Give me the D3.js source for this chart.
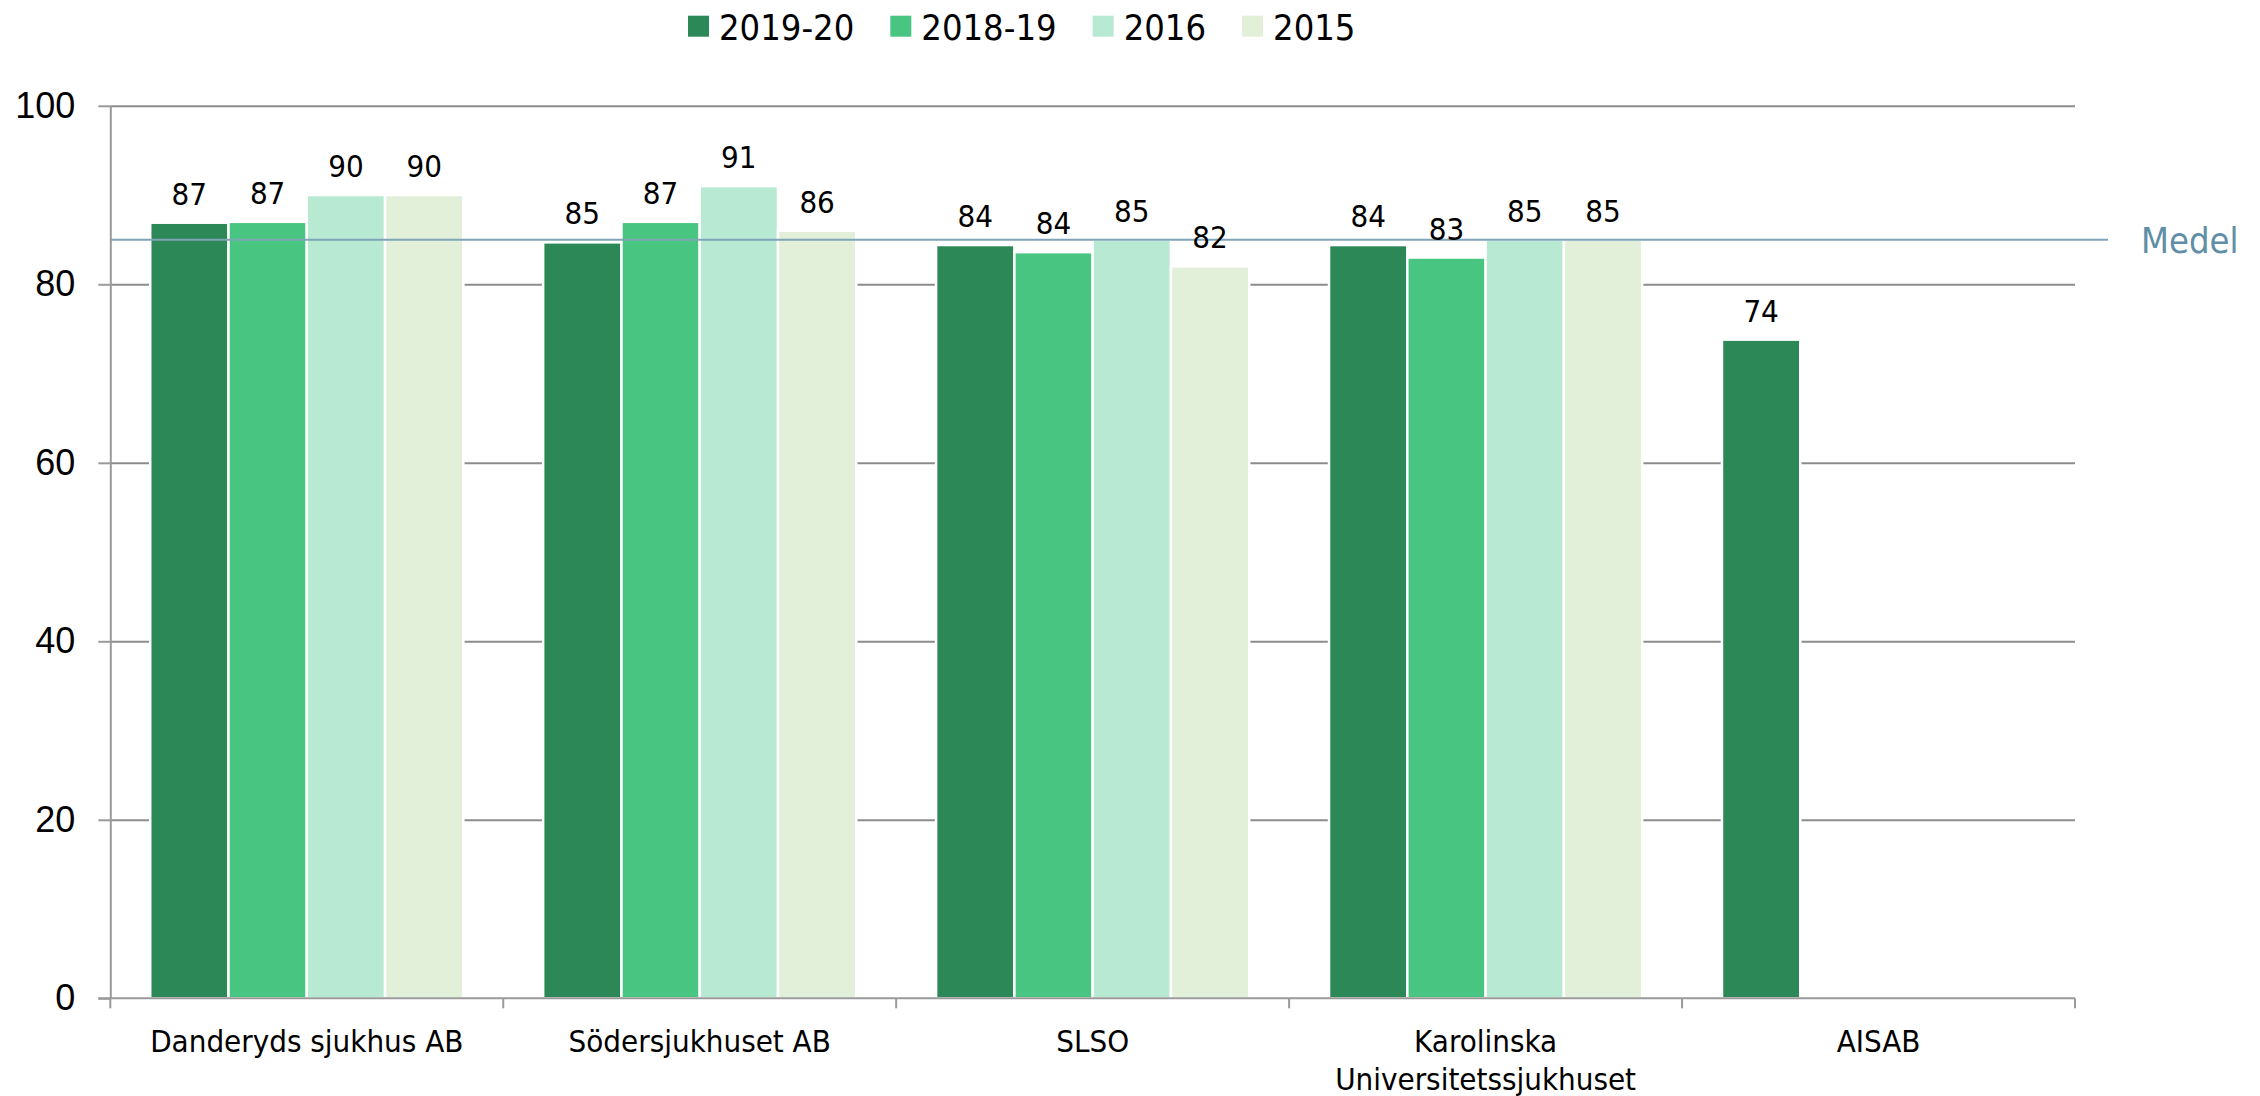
<!DOCTYPE html>
<html>
<head>
<meta charset="utf-8">
<script src="https://cdn.jsdelivr.net/npm/d3@7"></script>
<style>
	body { margin: 0; background: #fff; }
	svg { display: block; font-family: "DejaVu Sans Condensed", "DejaVu Sans", sans-serif; font-stretch: condensed; }
	.grid line { stroke: #8c8c8c; stroke-width: 2; }
	.axis path, .axis line { stroke: #9a9a9a; stroke-width: 2; }
	.axis text { fill: #000; font-size: 36px; }
	.value-label { font-size: 31px; fill: #000; }
	.cat-label { font-size: 31px; fill: #000; }
	.legend-text { font-size: 36px; fill: #000; }
	.medel-text { font-size: 36px; fill: #5f8ea6; }
</style>
</head>
<body>
<svg id="chart" width="2260" height="1096"></svg>
<script>
/* global d3 */

const categories = ["Danderyds sjukhus AB", "Södersjukhuset AB", "SLSO", "Karolinska\nUniversitetssjukhuset", "AISAB"];
const series = ["2019-20", "2018-19", "2016", "2015"];
const values201920 = [86.9, 84.7, 84.4, 84.4, 73.8];
const values201819 = [87.0, 87.0, 83.6, 83.0, null];
const values2016 = [90.0, 91.0, 85.0, 85.0, null];
const values2015 = [90.0, 86.0, 82.0, 85.0, null];
const medel = 85;
const medelLabel = "Medel";
const yTicks = [0, 20, 40, 60, 80, 100];

const seriesValues = [values201920, values201819, values2016, values2015];
const colors = ["#2c8957", "#48c581", "#b8e9d2", "#e2efd9"];

const svg = d3.select("#chart");
const plotLeft = 110.3;
const plotRight = 2075;
const plotTop = 105.8;
const plotBottom = 998.3;

const x0 = d3.scaleBand().domain(categories).range([plotLeft, plotRight]).paddingInner(0).paddingOuter(0);
const x1 = d3.scaleBand().domain(series).range([0, x0.bandwidth()]).paddingInner(0).paddingOuter(0.51);
const y = d3.scaleLinear().domain([0, 100]).range([plotBottom, plotTop]);
const color = d3.scaleOrdinal(series, colors);
const formatValue = d3.format(".0f");

// gridlines
svg.append("g")
	.attr("class", "grid")
	.attr("transform", `translate(${plotLeft},0)`)
	.call(d3.axisLeft(y).tickValues(yTicks.filter((t) => t > 0)).tickSize(-(plotRight - plotLeft)).tickFormat(""))
	.call((g) => g.select(".domain").remove());

// bars
const rows = categories.flatMap((cat, i) =>
	series.map((s, j) => ({ cat, s, value: seriesValues[j][i] })).filter((d) => d.value != null)
);

svg.append("g")
	.selectAll("rect")
	.data(rows)
	.join("rect")
	.attr("x", (d) => x0(d.cat) + x1(d.s))
	.attr("y", (d) => y(d.value))
	.attr("width", x1.bandwidth())
	.attr("height", (d) => plotBottom - y(d.value))
	.attr("fill", (d) => color(d.s))
	.attr("stroke", "#fff")
	.attr("stroke-width", 2.5);

// medel line
svg.append("line")
	.attr("x1", plotLeft)
	.attr("x2", 2108)
	.attr("y1", y(medel))
	.attr("y2", y(medel))
	.attr("stroke", "#7fa3b7")
	.attr("stroke-width", 2);
svg.append("text")
	.attr("class", "medel-text")
	.attr("x", 2141)
	.attr("y", y(medel) + 13)
	.text(medelLabel);

// y axis
svg.append("g")
	.attr("class", "axis")
	.attr("transform", `translate(${plotLeft},0)`)
	.call(d3.axisLeft(y).tickValues(yTicks).tickSize(12).tickSizeOuter(0).tickPadding(23));

// x axis baseline + boundary ticks
const xAxis = svg.append("g").attr("class", "axis");
xAxis.append("line").attr("x1", plotLeft - 12).attr("x2", plotRight).attr("y1", plotBottom).attr("y2", plotBottom);
xAxis.selectAll(".xtick")
	.data(d3.range(categories.length + 1))
	.join("line")
	.attr("class", "xtick")
	.attr("x1", (i) => plotLeft + i * x0.step())
	.attr("x2", (i) => plotLeft + i * x0.step())
	.attr("y1", plotBottom)
	.attr("y2", plotBottom + 10);

// category labels
svg.append("g")
	.selectAll("text")
	.data(categories)
	.join("text")
	.attr("class", "cat-label")
	.attr("text-anchor", "middle")
	.attr("x", (d) => x0(d) + x0.bandwidth() / 2)
	.attr("y", 1052)
	.each(function (d) {
		const lines = d.split("\n");
		d3.select(this)
			.selectAll("tspan")
			.data(lines)
			.join("tspan")
			.attr("x", x0(d) + x0.bandwidth() / 2)
			.attr("dy", (l, i) => (i === 0 ? 0 : 38))
			.text((l) => l);
	});

// value labels
svg.append("g")
	.selectAll("text")
	.data(rows)
	.join("text")
	.attr("class", "value-label")
	.attr("text-anchor", "middle")
	.attr("x", (d) => x0(d.cat) + x1(d.s) + x1.bandwidth() / 2)
	.attr("y", (d) => y(d.value) - 18)
	.text((d) => formatValue(d.value));

// legend
const legend = svg.append("g").attr("class", "legend");
let lx = 688;
series.forEach((s) => {
	legend.append("rect").attr("x", lx).attr("y", 15.7).attr("width", 21).attr("height", 21).attr("fill", color(s));
	const t = legend.append("text").attr("class", "legend-text").attr("x", lx + 31).attr("y", 40).text(s);
	lx += 31 + t.node().getComputedTextLength() + 36;
});
</script>
</body>
</html>
